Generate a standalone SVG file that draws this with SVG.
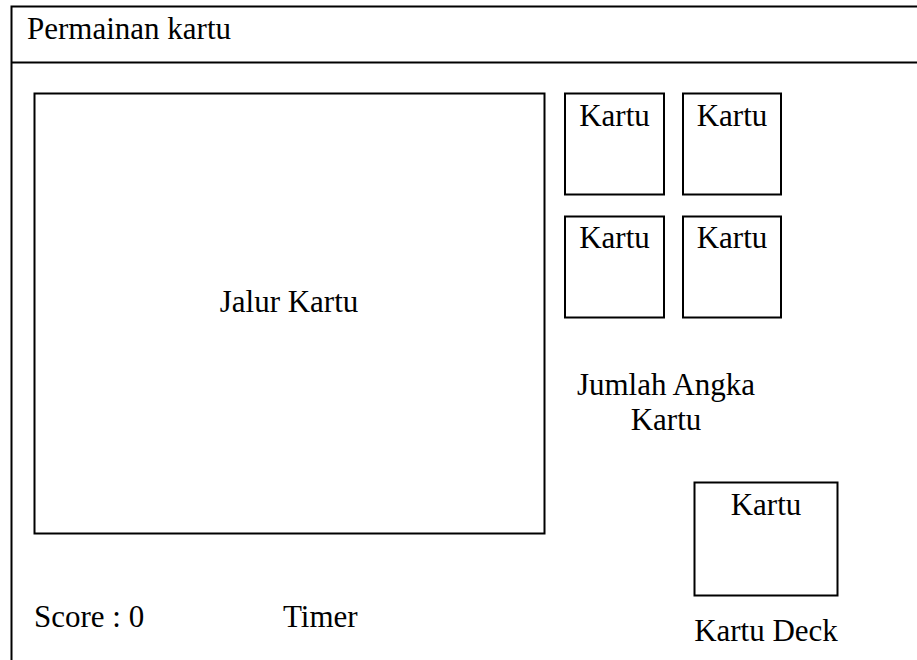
<svg xmlns="http://www.w3.org/2000/svg" width="917" height="660" viewBox="0 0 917 660">
<style>
.box{fill:#fff;stroke:#000;stroke-width:2}
.t{font-family:"Liberation Serif","Times New Roman",serif;font-size:31px;fill:#000}
.c{text-anchor:middle}
</style>
<rect width="917" height="660" fill="#fff"/>
<g id="frame">
<rect x="11.5" y="6.5" width="920" height="670" fill="#fff" stroke="#000" stroke-width="2"/>
<line x1="11.5" y1="62.5" x2="917" y2="62.5" stroke="#000" stroke-width="2"/>
<text class="t" x="27" y="39">Permainan kartu</text>
</g>
<g id="jalur">
<rect class="box" x="34.5" y="93.5" width="510" height="440"/>
<text class="t c" x="289" y="312">Jalur Kartu</text>
</g>
<g id="kartu1">
<rect class="box" x="565" y="93.5" width="99" height="101"/>
<text class="t c" x="614.5" y="126">Kartu</text>
</g>
<g id="kartu2">
<rect class="box" x="683" y="93.5" width="98" height="101"/>
<text class="t c" x="732" y="126">Kartu</text>
</g>
<g id="kartu3">
<rect class="box" x="565" y="216.5" width="99" height="101"/>
<text class="t c" x="614.5" y="248">Kartu</text>
</g>
<g id="kartu4">
<rect class="box" x="683" y="216.5" width="98" height="101"/>
<text class="t c" x="732" y="248">Kartu</text>
</g>
<g id="jumlah">
<text class="t c" x="666" y="395">Jumlah Angka</text>
<text class="t c" x="666" y="430">Kartu</text>
</g>
<g id="deck">
<rect class="box" x="694.5" y="482.5" width="143" height="113"/>
<text class="t c" x="766" y="515">Kartu</text>
<text class="t c" x="766" y="641">Kartu Deck</text>
</g>
<g id="score">
<text class="t" x="34" y="627">Score : 0</text>
</g>
<g id="timer">
<text class="t" x="283" y="627">Timer</text>
</g>
<g id="connectors"></g>
</svg>
